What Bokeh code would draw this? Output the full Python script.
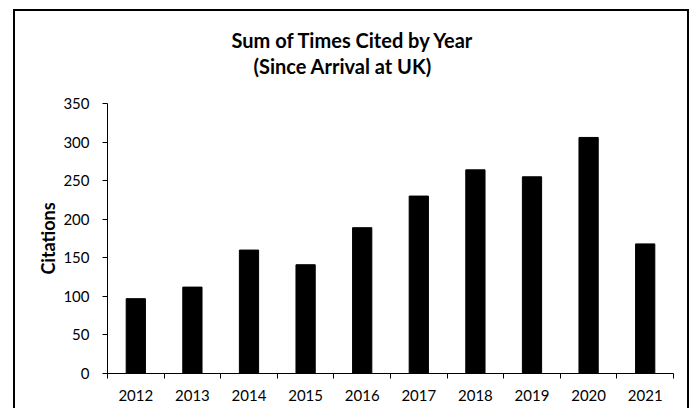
from bokeh.plotting import figure
from bokeh.layouts import row, column
from bokeh.models import FixedTicker, ColumnDataSource, Range1d, Title, Spacer
from bokeh.embed import file_html
from bokeh.resources import INLINE

years = ["2012", "2013", "2014", "2015", "2016", "2017", "2018", "2019", "2020", "2021"]
citations = [97, 112, 160, 141, 189, 230, 264, 255, 306, 168]
y_ticks = [0, 50, 100, 150, 200, 250, 300, 350]
title_lines = ["Sum of Times Cited by Year", "(Since Arrival at UK)"]
y_label = "Citations"

xs = [i + 0.5 for i in range(len(years))]
src = ColumnDataSource(dict(x=xs, top=citations, year=years))

p = figure(width=676, height=399, output_backend="svg", toolbar_location=None,
           x_range=Range1d(0, len(years)), y_range=Range1d(0, 350),
           min_border_left=92, min_border_right=18, min_border_top=92, min_border_bottom=37)
p.styles = {"border-top": "2px solid black", "border-left": "2px solid black",
            "border-right": "2px solid black"}

p.vbar(x="x", top="top", width=0.34, bottom=0, source=src, fill_color="black", line_color="black")

p.grid.visible = False
p.outline_line_color = None
p.background_fill_color = "white"
p.border_fill_color = "white"

xa = p.xaxis[0]
xa.ticker = FixedTicker(ticks=xs, minor_ticks=list(range(len(years) + 1)))
xa.major_label_overrides = {x: y for x, y in zip(xs, years)}
xa.major_tick_out = 0
xa.major_tick_in = 0
xa.minor_tick_out = 5
xa.minor_tick_in = 0
xa.minor_tick_line_color = "black"
xa.axis_line_color = "black"
xa.major_label_text_font = "Lato"
xa.major_label_text_font_size = "15px"
xa.major_label_text_color = "black"
xa.major_label_standoff = 11

ya = p.yaxis[0]
ya.ticker = FixedTicker(ticks=y_ticks)
ya.major_tick_out = 5
ya.major_tick_in = 0
ya.minor_tick_out = 0
ya.minor_tick_in = 0
ya.axis_line_color = "black"
ya.major_tick_line_color = "black"
ya.major_label_text_font = "Lato"
ya.major_label_text_font_size = "15px"
ya.major_label_text_color = "black"
ya.major_label_standoff = 13
ya.axis_label = y_label
ya.axis_label_text_font = "Lato"
ya.axis_label_text_font_style = "bold"
ya.axis_label_text_font_size = "18px"
ya.axis_label_text_color = "black"
ya.axis_label_standoff = 1

# blank spacer row between plot area and the title lines
p.add_layout(Title(text=" ", standoff=0, text_font="Lato", text_font_size="20px"), "above")
offsets = [124, 146]
for t, off in reversed(list(zip(title_lines, offsets))):
    p.add_layout(Title(text=t, align="left", offset=off, standoff=0, text_font="Lato",
                       text_font_style="bold", text_font_size="20px", text_color="black"), "above")

layout = row(Spacer(width=13), column(Spacer(height=9), p))
open("out.html", "w").write(file_html(layout, INLINE))
